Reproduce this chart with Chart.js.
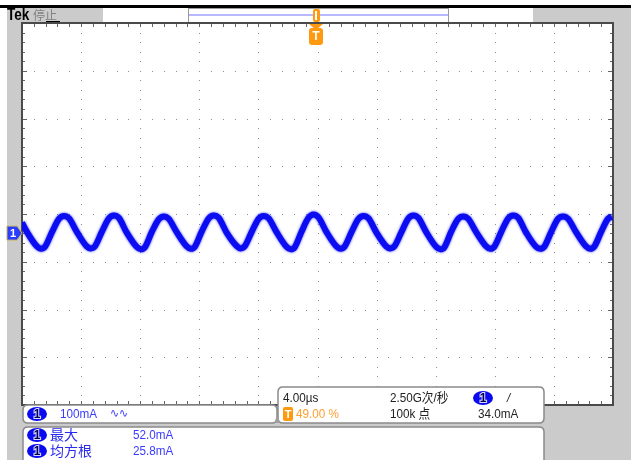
<!DOCTYPE html>
<html><head><meta charset="utf-8">
<script src="https://cdn.jsdelivr.net/npm/chart.js@4"></script>
<style>html,body{margin:0;padding:0;background:#fff}#wrap{width:631px;height:460px;position:relative}</style>
</head><body><div id="wrap"><canvas id="c"></canvas></div>
<script>
// time (µs, relative to trigger) and current (mA, relative to ch1 ground)
const timeUs = [-20.00,-19.66,-18.99,-18.72,-18.45,-17.97,-17.50,-17.16,-16.82,-16.28,
  -15.61,-15.34,-15.07,-14.59,-14.12,-13.78,-13.45,-12.91,
  -12.23,-11.96,-11.69,-11.22,-10.74,-10.41,-10.07,-9.53,
  -8.85,-8.58,-8.31,-7.84,-7.36,-7.03,-6.69,-6.15,
  -5.47,-5.20,-4.93,-4.46,-3.99,-3.65,-3.31,-2.77,
  -2.09,-1.82,-1.55,-1.08,-0.61,-0.27,0.07,0.61,
  1.28,1.55,1.82,2.30,2.77,3.11,3.45,3.99,
  4.66,4.93,5.20,5.68,6.15,6.49,6.82,7.36,
  8.04,8.31,8.58,9.05,9.53,9.86,10.20,10.74,
  11.42,11.69,11.96,12.43,12.91,13.24,13.58,14.12,
  14.80,15.07,15.34,15.81,16.28,16.62,16.96,17.50,
  18.18,18.45,18.72,19.19,19.66,19.93];
const currentMa = [22,2,-28,-33,-29,2,30,36,31,2,
  -28,-32,-28,3,31,37,32,1,
  -29,-34,-30,2,29,35,30,2,
  -28,-33,-29,3,31,37,32,1,
  -27,-32,-28,2,30,36,31,2,
  -29,-34,-30,3,32,39,33,2,
  -28,-33,-29,2,30,36,31,1,
  -28,-32,-28,2,31,37,32,2,
  -29,-34,-30,3,30,35,30,2,
  -28,-33,-29,2,31,37,32,1,
  -29,-33,-29,2,30,35,30,2,
  -28,-33,-29,2,30,34];
const xGridUs = [-16,-12,-8,-4,0,4,8,12,16];
const yGridMa = [340,240,140,40,-60,-160,-260];
const xRange = [-20,20];
const yRange = [-360,440];

const narrow = '"Liberation Sans","Noto Sans CJK SC",sans-serif';
const cjk = '"Noto Sans CJK SC",sans-serif';

function rrect(ctx,x,y,w,h,r){ctx.beginPath();ctx.moveTo(x+r,y);ctx.lineTo(x+w-r,y);ctx.quadraticCurveTo(x+w,y,x+w,y+r);ctx.lineTo(x+w,y+h-r);ctx.quadraticCurveTo(x+w,y+h,x+w-r,y+h);ctx.lineTo(x+r,y+h);ctx.quadraticCurveTo(x,y+h,x,y+h-r);ctx.lineTo(x,y+r);ctx.quadraticCurveTo(x,y,x+r,y);ctx.closePath();}
function badge(ctx,cx,cy){ctx.save();ctx.fillStyle='#0a0af0';ctx.beginPath();ctx.ellipse(cx,cy,10,7,0,0,Math.PI*2);ctx.fill();ctx.font='bold 12px '+narrow;ctx.textAlign='center';ctx.textBaseline='middle';ctx.lineWidth=2;ctx.strokeStyle='#d8d8ff';ctx.strokeText('1',cx,cy+1);ctx.fillStyle='#000050';ctx.fillText('1',cx,cy+1);ctx.restore();}
function txt(ctx,s,x,y,color,font,sx){ctx.save();ctx.translate(x,y);ctx.scale(sx||1,1);ctx.fillStyle=color;ctx.font=font;ctx.textAlign='left';ctx.textBaseline='middle';ctx.fillText(s,0,0);ctx.restore();}

const scopePlugin = {
  id:'scope',
  beforeDraw(chart){
    const ctx=chart.ctx, a=chart.chartArea, W=chart.width, H=chart.height;
    ctx.save();
    ctx.fillStyle='#fff';ctx.fillRect(0,0,W,H);
    ctx.fillStyle='#cbcbcb';ctx.fillRect(7,8,W-7,H-8);
    ctx.fillStyle='#000';ctx.fillRect(0,5,W,3);
    // header
    ctx.fillStyle='#fff';ctx.fillRect(103,8,430,15);
    ctx.strokeStyle='#9a9a9a';ctx.lineWidth=1;ctx.strokeRect(188.5,8.5,260,15);
    ctx.fillStyle='#b8b8ff';ctx.fillRect(189,14,259,2);
    txt(ctx,'Tek',7,16,'#000','bold 16px "Liberation Sans",sans-serif',0.85);
    txt(ctx,'停止',33,15,'#808080','12px '+cjk);
    ctx.fillStyle='#000';ctx.fillRect(46,21,14,1.5);
    // plot area
    ctx.fillStyle='#fff';ctx.fillRect(a.left,a.top,a.right-a.left,a.bottom-a.top);
    const xs=chart.scales.x, ys=chart.scales.y;
    ctx.fillStyle='#8c8c8c';
    for(const v of xGridUs){const px=Math.round(xs.getPixelForValue(v));
      for(let m=yRange[0];m<=yRange[1];m+=20){const py=Math.round(ys.getPixelForValue(m));ctx.fillRect(px,py,1,1);}}
    for(const m of yGridMa){const py=Math.round(ys.getPixelForValue(m));
      for(let t=xRange[0];t<=xRange[1]+1e-6;t+=0.8){const px=Math.round(xs.getPixelForValue(t));ctx.fillRect(px,py,1,1);}}
    // border ticks
    ctx.fillStyle='#666';
    for(let t=xRange[0];t<=xRange[1]+1e-6;t+=0.8){const px=Math.round(xs.getPixelForValue(t));ctx.fillRect(px,a.top,1,4);ctx.fillRect(px,a.bottom-4,1,4);}
    for(let m=yRange[0];m<=yRange[1];m+=20){const py=Math.round(ys.getPixelForValue(m));const len=((m-40)%100===0)?5:3;ctx.fillRect(a.left,py,len,1);ctx.fillRect(a.right-len,py,len,1);}
    ctx.strokeStyle='#4a4a4a';ctx.lineWidth=2;ctx.strokeRect(a.left,a.top,a.right-a.left,a.bottom-a.top);
    ctx.restore();
  },
  beforeDatasetDraw(chart){const ctx=chart.ctx;ctx.save();ctx.shadowColor='rgba(30,30,255,0.9)';ctx.shadowBlur=2.5;},
  afterDatasetDraw(chart){chart.ctx.restore();},
  afterDraw(chart){
    const ctx=chart.ctx, ys=chart.scales.y;
    ctx.save();
    // trigger markers
    ctx.fillStyle='#ff9a10';
    rrect(ctx,313,9,7,13,2);ctx.fill();
    ctx.beginPath();ctx.moveTo(309,24);ctx.lineTo(323,24);ctx.lineTo(316,30);ctx.closePath();ctx.fill();
    rrect(ctx,309,28,14,17,3);ctx.fill();
    ctx.fillStyle='#fff';ctx.font='bold 12px '+narrow;ctx.textAlign='center';ctx.textBaseline='middle';ctx.fillText('T',316,37);
    ctx.fillRect(315,11,2,9);
    // ground marker
    const gy=ys.getPixelForValue(0);
    ctx.beginPath();ctx.moveTo(7,gy-7);ctx.lineTo(17,gy-7);ctx.lineTo(22,gy);ctx.lineTo(17,gy+7);ctx.lineTo(7,gy+7);ctx.closePath();
    ctx.fillStyle='#2a3cff';ctx.fill();ctx.strokeStyle='#c8b860';ctx.lineWidth=1;ctx.stroke();
    ctx.fillStyle='#fff';ctx.font='bold 11px '+narrow;ctx.fillText('1',13,gy+1);
    // boxes
    ctx.lineWidth=1.5;ctx.strokeStyle='#8a8a8a';ctx.fillStyle='#fff';
    rrect(ctx,23,405,254,18,5);ctx.fill();ctx.stroke();
    rrect(ctx,278,387,266,36,5);ctx.fill();ctx.stroke();
    rrect(ctx,23,427,521,45,5);ctx.fill();ctx.stroke();
    ctx.fillStyle='#a0a0a0';ctx.beginPath();ctx.moveTo(274,423);ctx.lineTo(280,423);ctx.lineTo(277,416);ctx.closePath();ctx.fill();
    const f='13px '+narrow, s=0.9;
    // box 1
    badge(ctx,37,414);
    txt(ctx,'100mA',60,414,'#3a3aff',f,s);
    txt(ctx,'∿∿',110,414,'#3a3aff','12px "DejaVu Sans",sans-serif',s);
    // box 2
    txt(ctx,'4.00µs',283,398,'#222',f,s);
    txt(ctx,'2.50G次/秒',390,398,'#222',f,s);
    badge(ctx,483,398);
    txt(ctx,'/',507,398,'#222','italic '+f,s);
    ctx.fillStyle='#ff9a10';rrect(ctx,283,407,10,14,2);ctx.fill();
    ctx.fillStyle='#fff';ctx.font='bold 11px '+narrow;ctx.textAlign='center';ctx.textBaseline='middle';ctx.fillText('T',288,414.5);
    txt(ctx,'49.00 %',296,414,'#ffa030',f,s);
    txt(ctx,'100k 点',390,414,'#222',f,s);
    txt(ctx,'34.0mA',478,414,'#222',f,s);
    // box 3
    badge(ctx,37,435);
    txt(ctx,'最大',50,435,'#2a2aee','14px '+cjk);
    txt(ctx,'52.0mA',133,435,'#3a3aff',f,s);
    badge(ctx,37,451);
    txt(ctx,'均方根',50,451,'#2a2aee','14px '+cjk);
    txt(ctx,'25.8mA',133,451,'#3a3aff',f,s);
    ctx.restore();
  }
};

new Chart(document.getElementById('c'),{
  type:'line',
  data:{datasets:[{
    label:'CH1',
    data: timeUs.map((t,i)=>({x:t,y:currentMa[i]})),
    borderColor:'#0c0cf0',borderWidth:6,pointRadius:0,
    cubicInterpolationMode:'monotone',fill:false
  }]},
  options:{
    responsive:true,maintainAspectRatio:false,animation:false,
    layout:{padding:{left:22,top:23,right:18,bottom:55}},
    plugins:{legend:{display:false},tooltip:{enabled:false},title:{display:false}},
    scales:{
      x:{type:'linear',min:xRange[0],max:xRange[1],display:false},
      y:{type:'linear',min:yRange[0],max:yRange[1],display:false}
    }
  },
  plugins:[scopePlugin]
});
</script></body></html>
